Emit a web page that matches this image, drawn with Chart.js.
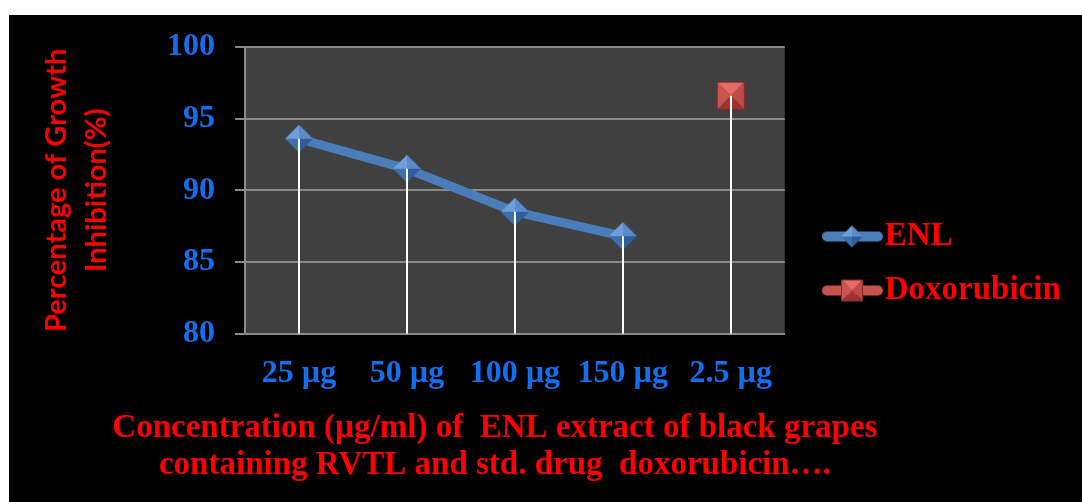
<!DOCTYPE html>
<html>
<head>
<meta charset="utf-8">
<script src="https://cdn.jsdelivr.net/npm/chart.js@4.4.0/dist/chart.umd.min.js"></script>
<style>
  html, body { margin: 0; padding: 0; background: #fff; }
  #wrap { position: absolute; left: 9px; top: 15px; width: 1073px; height: 487px; background: #000; }
</style>
</head>
<body>
<div id="wrap"><canvas id="lineChart"></canvas></div>
<script>
const categories = ['25 µg', '50 µg', '100 µg', '150 µg', '2.5 µg'];
const enlValues = [93.6, 91.5, 88.5, 86.8, null];
const doxValues = [null, null, null, null, 96.6];
const yTicks = [80, 85, 90, 95, 100];
const xTitleLines = ['Concentration (µg/ml) of  ENL extract of black grapes', 'containing RVTL and std. drug  doxorubicin….'];
const yTitleLines = ['Percentage of Growth', 'Inhibition(%)'];

const blueLine = '#4a7ebb';
const redLine = '#c0504d';
const tickBlue = '#1270f0';
const titleRed = '#ff0000';

// pyramid style markers, drawn once on small canvases
function diamond(ctx, cx, cy, r) {
  const faces = [['#6f9fdb', -r, 0, 0, -r], ['#5a8bcb', 0, -r, r, 0], ['#2f5e9a', r, 0, 0, r], ['#3e70ae', 0, r, -r, 0]];
  faces.forEach(f => {
    ctx.fillStyle = f[0];
    ctx.beginPath();
    ctx.moveTo(cx, cy);
    ctx.lineTo(cx + f[1], cy + f[2]);
    ctx.lineTo(cx + f[3], cy + f[4]);
    ctx.closePath();
    ctx.fill();
  });
}
function square(ctx, cx, cy, h) {
  const faces = [['#e56b68', -h, -h, h, -h], ['#c04a47', h, -h, h, h], ['#9f3230', h, h, -h, h], ['#cc5552', -h, h, -h, -h]];
  faces.forEach(f => {
    ctx.fillStyle = f[0];
    ctx.beginPath();
    ctx.moveTo(cx, cy);
    ctx.lineTo(cx + f[1], cy + f[2]);
    ctx.lineTo(cx + f[3], cy + f[4]);
    ctx.closePath();
    ctx.fill();
  });
  ctx.strokeStyle = '#8c2a28';
  ctx.lineWidth = 1;
  ctx.strokeRect(cx - h + 0.5, cy - h + 0.5, 2 * h - 1, 2 * h - 1);
}
function makeCanvas(w, h, draw) {
  const c = document.createElement('canvas');
  c.width = w; c.height = h;
  draw(c.getContext('2d'));
  return c;
}

const diamondImg = makeCanvas(30, 30, ctx => diamond(ctx, 15, 15, 14));
const squareImg = makeCanvas(30, 30, ctx => square(ctx, 15, 15, 14));

function legendSymbol(color, marker) {
  return makeCanvas(92, 30, ctx => {
    ctx.strokeStyle = color;
    ctx.lineWidth = 10;
    ctx.lineCap = 'round';
    ctx.beginPath();
    ctx.moveTo(36, 15);
    ctx.lineTo(87, 15);
    ctx.stroke();
    marker(ctx);
  });
}
const enlLegend = legendSymbol(blueLine, ctx => diamond(ctx, 61, 15, 11));
const doxLegend = legendSymbol('#c9514e', ctx => square(ctx, 61, 15, 11));

const plotBackground = {
  id: 'plotBackground',
  beforeDraw(chart) {
    const {ctx, chartArea: a} = chart;
    ctx.save();
    ctx.fillStyle = '#404040';
    ctx.fillRect(a.left, a.top, a.right - a.left, a.bottom - a.top);
    ctx.restore();
  }
};

// white drop lines from every point down to the axis
const dropLines = {
  id: 'dropLines',
  afterDatasetsDraw(chart) {
    const {ctx, chartArea: a} = chart;
    ctx.save();
    ctx.strokeStyle = '#ffffff';
    ctx.lineWidth = 2;
    chart.data.datasets.forEach((ds, i) => {
      chart.getDatasetMeta(i).data.forEach((pt, j) => {
        if (ds.data[j] == null) return;
        ctx.beginPath();
        ctx.moveTo(Math.round(pt.x), pt.y);
        ctx.lineTo(Math.round(pt.x), a.bottom);
        ctx.stroke();
      });
    });
    ctx.restore();
  }
};

// the x title is wider than the plot, so it is drawn here instead of by the scale
const xTitle = {
  id: 'xTitle',
  afterDraw(chart) {
    const {ctx, chartArea: a} = chart;
    const cx = (a.left + a.right) / 2 - 20;
    ctx.save();
    ctx.fillStyle = titleRed;
    ctx.font = 'bold 33px "Liberation Serif"';
    ctx.textAlign = 'center';
    ctx.textBaseline = 'middle';
    xTitleLines.forEach((t, i) => ctx.fillText(t, cx, a.bottom + 95 + i * 37));
    ctx.restore();
  }
};

// legend box is capped at a quarter of the width, let "Doxorubicin" run past it
const legendClip = {
  id: 'legendClip',
  afterLayout(chart) {
    const lg = chart.legend;
    if (!lg) return;
    lg.right = chart.width;
    lg.width = lg.right - lg.left;
  }
};

new Chart(document.getElementById('lineChart'), {
  type: 'line',
  data: {
    labels: categories,
    datasets: [
      {
        label: 'ENL',
        data: enlValues,
        borderColor: blueLine,
        borderWidth: 9,
        pointStyle: diamondImg,
        pointRadius: 14
      },
      {
        label: 'Doxorubicin',
        data: doxValues,
        borderColor: redLine,
        borderWidth: 9,
        pointStyle: squareImg,
        pointRadius: 14
      }
    ]
  },
  options: {
    responsive: true,
    maintainAspectRatio: false,
    animation: false,
    events: [],
    layout: { padding: { left: 10, top: 32, right: 42, bottom: 22 } },
    plugins: {
      tooltip: { enabled: false },
      legend: {
        position: 'right',
        labels: {
          usePointStyle: true,
          pointStyleWidth: 62.5,
          padding: 21,
          color: titleRed,
          font: { family: 'Liberation Serif', size: 33, weight: 'bold' },
          generateLabels: chart => chart.data.datasets.map((ds, i) => ({
            text: ds.label,
            pointStyle: i === 0 ? enlLegend : doxLegend,
            fontColor: titleRed,
            hidden: false,
            datasetIndex: i,
            lineWidth: 0
          }))
        }
      }
    },
    scales: {
      x: {
        offset: true,
        grid: { display: false, drawTicks: false },
        border: { color: '#8a8a8a', width: 2 },
        ticks: {
          color: tickBlue,
          padding: 21,
          font: { family: 'Liberation Serif', size: 32, weight: 'bold' }
        },
        afterFit: axis => { axis.height += 66; }
      },
      y: {
        min: 80,
        max: 100,
        afterBuildTicks: axis => { axis.ticks = yTicks.map(v => ({ value: v })); },
        grid: { color: '#8a8a8a', lineWidth: 2, tickLength: 10 },
        border: { color: '#8a8a8a', width: 2 },
        ticks: {
          color: tickBlue,
          padding: 20,
          font: { family: 'Liberation Serif', size: 32, weight: 'bold', lineHeight: 0.75 }
        },
        title: {
          display: true,
          text: yTitleLines,
          color: titleRed,
          padding: { top: 18, bottom: 30 },
          font: { family: 'Lato', size: 29, weight: 'bold', lineHeight: 1.38 }
        }
      }
    }
  },
  plugins: [plotBackground, dropLines, xTitle, legendClip]
});
</script>
</body>
</html>
